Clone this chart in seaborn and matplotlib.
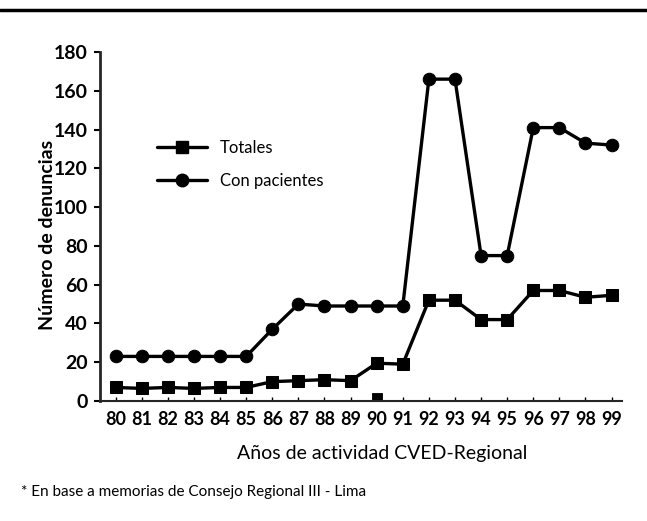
import pandas as pd
import seaborn as sns
import matplotlib.pyplot as plt
from matplotlib.lines import Line2D

# Data
years = list(range(80, 100))
totales = [7, 6.5, 7, 6.5, 7, 7, 10, 10.5, 11, 10.5, 19.5, 19, 52, 52, 42, 42, 57, 57, 53.5, 54.5]
con_pacientes = [23, 23, 23, 23, 23, 23, 37, 50, 49, 49, 49, 49, 166, 166, 75, 75, 141, 141, 133, 132]
stray_year = [90]
stray_value = [1.5]
year_labels = [str(y) for y in years]
y_ticks = list(range(0, 181, 20))

df = pd.DataFrame({
    'year': years * 2,
    'value': totales + con_pacientes,
    'serie': ['Totales'] * len(years) + ['Con pacientes'] * len(years),
})

sns.set_style('ticks')
plt.rcParams['font.family'] = ['Lato', 'DejaVu Sans']
plt.rcParams['text.color'] = 'black'
plt.rcParams['axes.labelcolor'] = 'black'
plt.rcParams['xtick.color'] = 'black'
plt.rcParams['ytick.color'] = 'black'

fig = plt.figure(figsize=(6.47, 5.21), dpi=100)
ax = fig.add_axes([0.1546, 0.2303, 0.8068, 0.6699])

sns.lineplot(data=df[df['serie'] == 'Totales'], x='year', y='value', ax=ax,
             color='black', marker='s', markersize=8, linewidth=2.4,
             markeredgecolor='black', label='Totales')
sns.lineplot(data=df[df['serie'] == 'Con pacientes'], x='year', y='value', ax=ax,
             color='black', marker='o', markersize=9, linewidth=2.4,
             markeredgecolor='black', label='Con pacientes')
sns.scatterplot(x=stray_year, y=stray_value, ax=ax, marker='s', s=60,
                color='black', edgecolor='black', legend=False)

ax.set_xlim(79.4, 99.4)
ax.set_ylim(0, 180)
ax.set_xticks(years)
ax.set_xticklabels(year_labels, fontsize=13, fontweight='bold')
ax.set_yticks(y_ticks)
ax.set_yticklabels([str(v) for v in y_ticks], fontsize=14, fontweight='bold')
ax.tick_params(axis='y', direction='out', length=4, width=1.5, pad=5)
ax.tick_params(axis='x', direction='in', length=3, width=1, pad=7)

sns.despine(ax=ax)
ax.spines['left'].set_linewidth(2)
ax.spines['bottom'].set_linewidth(1.5)

ax.set_xlabel('Años de actividad CVED-Regional', fontsize=14)
ax.xaxis.set_label_coords(0.54, -0.125)
ax.set_ylabel('Número de denuncias', fontsize=14, fontweight='bold')
ax.yaxis.set_label_coords(-0.085, 0.475)

handles = [
    Line2D([], [], color='black', marker='s', markersize=8, linewidth=2.4),
    Line2D([], [], color='black', marker='o', markersize=9, linewidth=2.4),
]
ax.legend(handles, ['Totales', 'Con pacientes'], frameon=False, fontsize=12,
          handlelength=3, labelspacing=1.0, loc='upper left',
          bbox_to_anchor=(0.08, 0.79))

fig.text(0.033, 0.056, '* En base a memorias de Consejo Regional III - Lima',
         fontsize=11, va='center')
fig.add_artist(Line2D([0, 1], [0.981, 0.981], transform=fig.transFigure,
                      color='black', linewidth=2.5))

fig.savefig('out.png', dpi=100)
